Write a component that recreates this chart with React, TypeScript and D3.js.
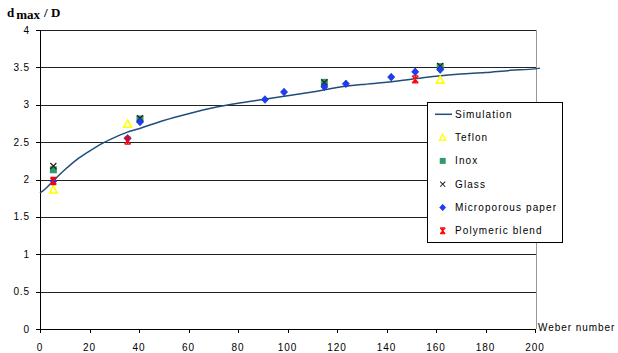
import * as d3 from 'd3';

// Weber number vs. d_max / D
const simWe = [0, 2, 5, 10, 15, 20, 25, 30, 35, 40, 50, 60, 70, 80, 90, 100, 110, 120, 130, 140, 150, 160, 170, 180, 190, 200, 202];
const simD = [1.82, 1.87, 1.97, 2.13, 2.27, 2.38, 2.48, 2.56, 2.63, 2.68, 2.79, 2.88, 2.96, 3.02, 3.07, 3.12, 3.17, 3.23, 3.27, 3.3, 3.34, 3.38, 3.41, 3.43, 3.46, 3.48, 3.49];

const teflonWe = [5.4, 35.4, 161.7];
const teflonD = [1.86, 2.74, 3.33];
const inoxWe = [5.4, 40.4, 114.9, 161.7];
const inoxD = [2.13, 2.81, 3.3, 3.51];
const glassWe = [5.4, 40.4, 114.9, 161.7];
const glassD = [2.18, 2.82, 3.3, 3.52];
const paperWe = [5.4, 35.4, 40.4, 90.9, 98.6, 114.9, 123.6, 141.9, 151.6, 161.7];
const paperD = [1.98, 2.55, 2.77, 3.07, 3.17, 3.24, 3.28, 3.37, 3.44, 3.47];
const blendWe = [5.4, 35.4, 151.6];
const blendD = [1.98, 2.52, 3.34];

const xTicks = [0, 20, 40, 60, 80, 100, 120, 140, 160, 180, 200];
const yTicks = [0, 0.5, 1, 1.5, 2, 2.5, 3, 3.5, 4];
const legendLabels = ['Simulation', 'Teflon', 'Inox', 'Glass', 'Microporous paper', 'Polymeric blend'];

const W = 618;
const H = 353;
const plot = { left: 40, right: 536, top: 30, bottom: 329 };
const font = 'Liberation Sans, Arial, sans-serif';

const x = d3.scaleLinear().domain([0, 200]).range([plot.left, 535]);
const y = d3.scaleLinear().domain([0, 4]).range([plot.bottom, plot.top]);

function Marker({ kind, cx, cy }: { kind: string; cx: number; cy: number }) {
  if (kind === 'Teflon') {
    return (
      <path
        d={`M${cx},${cy - 4}L${cx + 3.8},${cy + 3}L${cx - 3.8},${cy + 3}Z`}
        fill="none"
        stroke="#ffff00"
        strokeWidth={1.6}
      />
    );
  }
  if (kind === 'Inox') {
    return <rect x={cx - 3.5} y={cy - 3.5} width={7} height={7} fill="#339966" />;
  }
  if (kind === 'Glass') {
    return (
      <path
        d={`M${cx - 3},${cy - 3}L${cx + 3},${cy + 3}M${cx + 3},${cy - 3}L${cx - 3},${cy + 3}`}
        stroke="#222"
        strokeWidth={1.2}
      />
    );
  }
  if (kind === 'Microporous paper') {
    return (
      <path
        d={`M${cx},${cy - 3.8}L${cx + 3.5},${cy}L${cx},${cy + 3.8}L${cx - 3.5},${cy}Z`}
        fill="#1a3cff"
        stroke="#2233bb"
        strokeWidth={0.8}
      />
    );
  }
  return (
    <path
      d={`M${cx - 3},${cy - 3.5}L${cx + 3},${cy + 3.5}M${cx + 3},${cy - 3.5}L${cx - 3},${cy + 3.5}M${cx - 3},${cy - 3.5}H${cx + 3}M${cx - 3},${cy + 3.5}H${cx + 3}M${cx},${cy - 3.5}V${cy + 3.5}`}
      stroke="#ff0000"
      strokeWidth={1.3}
    />
  );
}

export default function App() {
  const line = d3
    .line<number>()
    .x((d) => x(d))
    .y((_, i) => y(simD[i]))
    .curve(d3.curveMonotoneX);

  const series = [
    { kind: 'Teflon', xs: teflonWe, ys: teflonD },
    { kind: 'Inox', xs: inoxWe, ys: inoxD },
    { kind: 'Glass', xs: glassWe, ys: glassD },
    { kind: 'Microporous paper', xs: paperWe, ys: paperD },
    { kind: 'Polymeric blend', xs: blendWe, ys: blendD },
  ];

  const legend = { x: 427.5, y: 102.5, w: 135, h: 140, row: 23.3 };

  return (
    <svg
      width={W}
      height={H}
      viewBox={`0 0 ${W} ${H}`}
      style={{ position: 'absolute', left: 0, top: 0, background: '#fff' }}
    >
      {/* grid */}
      {yTicks.map((t) => (
        <line
          key={`g${t}`}
          x1={plot.left}
          x2={plot.right}
          y1={Math.round(y(t)) + 0.5}
          y2={Math.round(y(t)) + 0.5}
          stroke={t === 0 ? '#000' : '#222'}
          strokeWidth={1}
        />
      ))}
      {/* right border */}
      <line x1={plot.right + 0.5} x2={plot.right + 0.5} y1={plot.top} y2={plot.bottom} stroke="#999" />

      {/* axes */}
      <line x1={plot.left + 0.5} x2={plot.left + 0.5} y1={plot.top} y2={plot.bottom + 1} stroke="#000" />
      {yTicks.map((t) => (
        <g key={`yt${t}`}>
          <line x1={plot.left - 4} x2={plot.left} y1={Math.round(y(t)) + 0.5} y2={Math.round(y(t)) + 0.5} stroke="#000" />
          <text
            x={30}
            y={y(t)}
            dy="0.35em"
            textAnchor="end"
            fontFamily={font}
            fontSize={10}
            letterSpacing={0.9}
            fill="#000"
          >
            {t}
          </text>
        </g>
      ))}
      {xTicks.map((t) => (
        <g key={`xt${t}`}>
          <line x1={Math.round(x(t)) + 0.5} x2={Math.round(x(t)) + 0.5} y1={plot.bottom} y2={plot.bottom + 4} stroke="#000" />
          <text
            x={x(t)}
            y={351}
            textAnchor="middle"
            fontFamily={font}
            fontSize={10}
            letterSpacing={1}
            fill="#000"
          >
            {t}
          </text>
        </g>
      ))}
      <text x={538} y={331} fontFamily={font} fontSize={10} letterSpacing={0.95} fill="#000">
        Weber number
      </text>

      {/* y label */}
      <text x={7} y={17} fontFamily="Liberation Serif, Times New Roman, serif" fontWeight="bold" fontSize={13} fill="#000">
        d
        <tspan dx={2} dy={1.5}>max</tspan>
        <tspan dx={4} dy={-1.5}>/ D</tspan>
      </text>

      {/* simulation */}
      <path d={line(simWe) ?? ''} fill="none" stroke="#1f4e7a" strokeWidth={1.5} />

      {/* measurements */}
      {series.map((s) =>
        s.xs.map((v, i) => <Marker key={`${s.kind}${i}`} kind={s.kind} cx={x(v)} cy={y(s.ys[i])} />)
      )}

      {/* legend */}
      <rect x={legend.x} y={legend.y} width={legend.w} height={legend.h} fill="#fff" stroke="#000" />
      {legendLabels.map((label, i) => {
        const ly = 114.3 + i * legend.row;
        return (
          <g key={label}>
            {i === 0 ? (
              <line x1={435} x2={452} y1={ly} y2={ly} stroke="#1f4e7a" strokeWidth={1.5} />
            ) : (
              <g transform={`translate(442.7,${ly}) scale(0.85) translate(-442.7,${-ly})`}>
                <Marker kind={label} cx={442.7} cy={ly} />
              </g>
            )}
            <text x={455} y={ly} dy="0.35em" fontFamily={font} fontSize={10} letterSpacing={1.1} fill="#000">
              {label}
            </text>
          </g>
        );
      })}
    </svg>
  );
}
